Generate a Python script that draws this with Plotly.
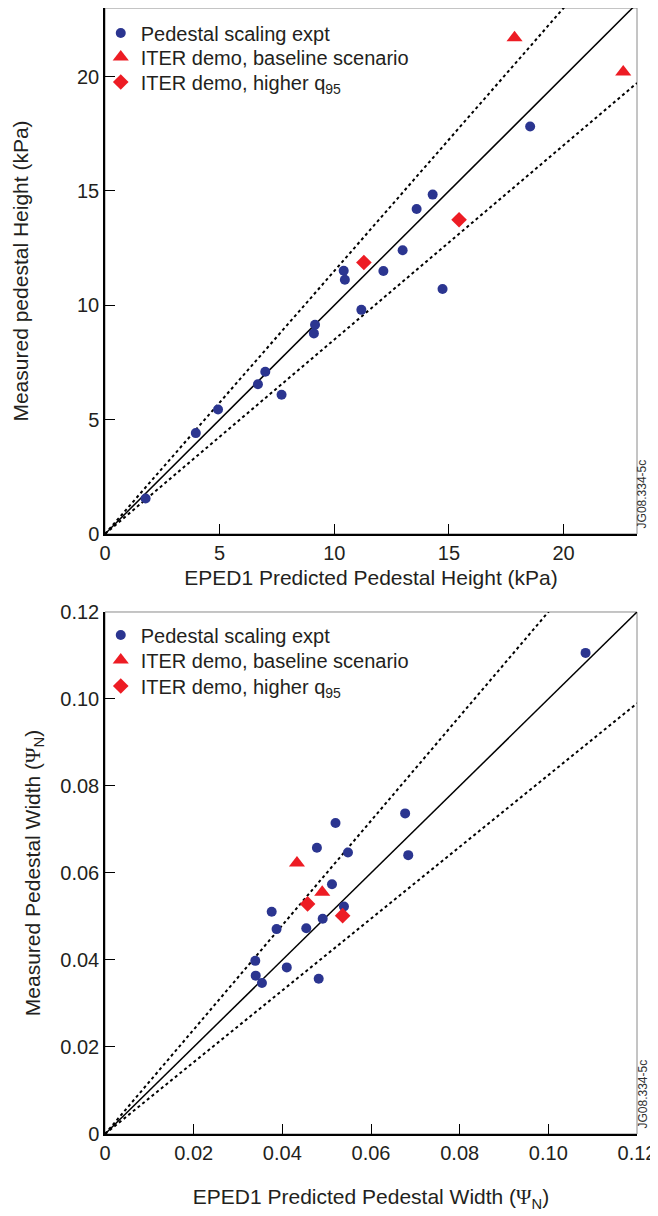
import plotly.graph_objects as go

# top panel: pedestal height (kPa), EPED1 predicted vs measured
height_pred = [1.77, 3.96, 4.93, 6.67, 6.99, 7.70, 9.11, 9.16, 10.41, 10.46,
               11.18, 12.14, 12.98, 13.59, 14.29, 14.72, 18.54]
height_meas = [1.55, 4.41, 5.44, 6.55, 7.09, 6.09, 8.77, 9.15, 11.51, 11.12,
               9.80, 11.50, 12.41, 14.21, 14.84, 10.71, 17.82]
height_base_pred = [17.86, 22.6]
height_base_meas = [21.7, 20.2]
height_q95_pred = [11.29, 15.44]
height_q95_meas = [11.87, 13.74]
height_xmax = 23.2
height_ymax = 23.0
height_bounds = [1.15, 0.85]  # slopes of the dotted lines
height_ticks = [0, 5, 10, 15, 20]

# bottom panel: pedestal width (psi_N)
width_pred = [0.0339, 0.0340, 0.0354, 0.0376, 0.0387, 0.0410, 0.0454, 0.0478,
              0.0482, 0.0491, 0.0512, 0.0520, 0.0539, 0.0548, 0.0677, 0.0684, 0.1084]
width_meas = [0.0398, 0.0364, 0.0347, 0.0511, 0.0471, 0.0383, 0.0473, 0.0658,
              0.0357, 0.0495, 0.0574, 0.0715, 0.0523, 0.0647, 0.0737, 0.0641, 0.1106]
width_base_pred = [0.0433, 0.0490]
width_base_meas = [0.0623, 0.0556]
width_q95_pred = [0.0457, 0.0536]
width_q95_meas = [0.0529, 0.0502]
width_xmax = 0.12
width_ymax = 0.12
width_bounds = [1.2, 0.825]
width_ticks = [0, 0.02, 0.04, 0.06, 0.08, 0.10, 0.12]
width_ticktext = ["0", "0.02", "0.04", "0.06", "0.08", "0.10", "0.12"]

series_names = ["Pedestal scaling expt", "ITER demo, baseline scenario",
                "ITER demo, higher q<sub>95</sub>"]

BLUE = "#2b3590"
RED = "#ed1c24"
INK = "#231f20"
FONT = "Liberation Sans"

# the page body keeps its default 8px margin, so the figure is 8px smaller
FIG_W, FIG_H = 650, 1208
PLOT_TOP, PLOT_BOTTOM = 0, 1126

fig = go.Figure()


def add_panel(fig, xa, ya, legends, pred, meas, base_pred, base_meas,
              q95_pred, q95_meas, xmax, bounds):
    # 1:1 line and the two dotted bounds
    fig.add_trace(go.Scatter(x=[0, xmax], y=[0, xmax], mode="lines",
                             line=dict(color="black", width=1.5),
                             xaxis=xa, yaxis=ya, showlegend=False, hoverinfo="skip"))
    for slope in bounds:
        fig.add_trace(go.Scatter(x=[0, xmax], y=[0, xmax * slope], mode="lines",
                                 line=dict(color="black", width=2, dash="dot"),
                                 xaxis=xa, yaxis=ya, showlegend=False, hoverinfo="skip"))
    fig.add_trace(go.Scatter(x=pred, y=meas, mode="markers", name=series_names[0],
                             marker=dict(symbol="circle", size=10, color=BLUE),
                             xaxis=xa, yaxis=ya, legend=legends[0], cliponaxis=False))
    fig.add_trace(go.Scatter(x=base_pred, y=base_meas, mode="markers", name=series_names[1],
                             marker=dict(symbol="triangle-up", size=14, color=RED),
                             xaxis=xa, yaxis=ya, legend=legends[1], cliponaxis=False))
    fig.add_trace(go.Scatter(x=q95_pred, y=q95_meas, mode="markers", name=series_names[2],
                             marker=dict(symbol="diamond", size=12, color=RED),
                             xaxis=xa, yaxis=ya, legend=legends[2], cliponaxis=False))


add_panel(fig, "x", "y", ["legend", "legend2", "legend3"], height_pred, height_meas,
          height_base_pred, height_base_meas, height_q95_pred, height_q95_meas,
          height_xmax, height_bounds)
add_panel(fig, "x2", "y2", ["legend4", "legend5", "legend6"], width_pred, width_meas,
          width_base_pred, width_base_meas, width_q95_pred, width_q95_meas,
          width_xmax, width_bounds)

axis_style = dict(showline=True, linecolor="black", linewidth=1.5, ticks="inside",
                  ticklen=10, tickcolor="black", tickwidth=1, showgrid=False,
                  zeroline=False, automargin=False, tickfont=dict(size=20, color=INK))
title_font = dict(size=21, color=INK)
psi = '<span style="font-family:Liberation Serif">Ψ</span>'

# one legend box per entry so the row spacing can follow the reference
legend_rows = [25, 49, 74, 627, 652, 678]
legends = {}
for i, row in enumerate(legend_rows):
    key = "legend" if i == 0 else f"legend{i + 1}"
    legends[key] = dict(x=-0.008, y=(PLOT_BOTTOM - row) / (PLOT_BOTTOM - PLOT_TOP),
                        xanchor="left", yanchor="middle", bgcolor="rgba(0,0,0,0)",
                        font=dict(size=20, color=INK), itemwidth=30, borderwidth=0)

fig.update_layout(
    width=FIG_W, height=FIG_H,
    margin=dict(l=97, r=21, t=PLOT_TOP, b=FIG_H - PLOT_BOTTOM),
    paper_bgcolor="white", plot_bgcolor="white",
    font=dict(family=FONT, size=20, color=INK),
    xaxis=dict(domain=[0, 1], range=[0, height_xmax], anchor="y", tickvals=height_ticks,
               title=dict(text="EPED1 Predicted Pedestal Height (kPa)", standoff=8,
                          font=title_font),
               **axis_style),
    yaxis=dict(domain=[0.5329, 1], range=[0, height_ymax], anchor="x", tickvals=height_ticks,
               title=dict(text="Measured pedestal Height (kPa)", standoff=43,
                          font=title_font),
               **axis_style),
    xaxis2=dict(domain=[0, 1], range=[0, width_xmax], anchor="y2", tickvals=width_ticks,
                ticktext=width_ticktext,
                title=dict(text=f"EPED1 Predicted Pedestal Width ({psi}<sub>N</sub>)",
                           standoff=27, font=title_font),
                **axis_style),
    yaxis2=dict(domain=[0, 0.4636], range=[0, width_ymax], anchor="x2", tickvals=width_ticks,
                ticktext=width_ticktext,
                title=dict(text=f"Measured Pedestal Width ({psi}<sub>N</sub>)", standoff=14,
                           font=title_font),
                **axis_style),
    **legends,
)

for xa, ya in (("x", "y"), ("x2", "y2")):
    fig.add_shape(type="rect", xref=f"{xa} domain", yref=f"{ya} domain",
                  x0=0, x1=1, y0=0, y1=1, line=dict(color="#8a8a8a", width=1), layer="below")
    fig.add_annotation(text="JG08.334-5c", xref=f"{xa} domain", yref=f"{ya} domain",
                       x=1, y=0, xanchor="left", yanchor="bottom", xshift=-4, yshift=3,
                       textangle=-90, showarrow=False, font=dict(size=12, color="#333"))

fig.write_html("out.html")
